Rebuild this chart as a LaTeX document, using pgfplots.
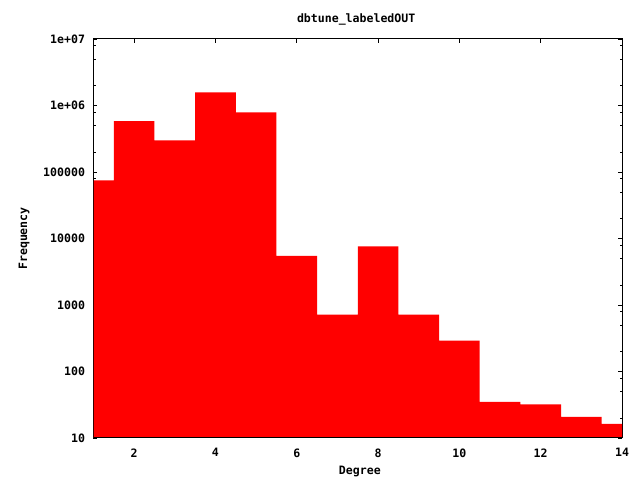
\documentclass[border=0pt]{standalone}
\usepackage{fontspec}
\setmonofont{DejaVu Sans Mono}
\usepackage{pgfplots}
\pgfplotsset{compat=1.18}
\definecolor{gpred}{RGB}{255,0,0}

\begin{document}
\begin{tikzpicture}[font=\ttfamily\bfseries\fontsize{11.6}{13}\selectfont]
\path[use as bounding box] (-93.5bp,-42bp) rectangle (546.5bp,438bp);
\begin{axis}[
    scale only axis,
    width=528.5bp, height=399bp,
    ymode=log,
    xmin=1, xmax=14,
    ymin=10, ymax=1e7,
    xtick={2,4,6,8,10,12,14},
    ytick={10,100,1000,10000,100000,1000000,10000000},
    yticklabels={10,100,1000,10000,100000,1e+06,1e+07},
    minor ytick={20,50,80,200,500,800,2000,5000,8000,20000,50000,80000,
                 200000,500000,800000,2000000,5000000,8000000},
    minor xtick={},
    tick align=inside,
    major tick length=4bp,
    minor tick length=2.5bp,
    tick style={black, line width=0.8bp},
    axis line style={line width=1bp},
    /pgf/number format/assume math mode=true,
    xticklabel style={yshift=-7bp},
    yticklabel style={xshift=-5bp},
    every axis title shift=0pt,
    title={dbtune\_labeledOUT},
    title style={at={(axis description cs:0.497,1.05)}, anchor=center, yshift=0pt},
    xlabel={Degree},
    xlabel style={at={(axis description cs:0.504,-0.0827)}, anchor=center},
    ylabel={Frequency},
    ylabel style={at={(axis description cs:-0.1315,0.5)}, anchor=center},
]
\addplot[ybar interval, fill=gpred, draw=none] coordinates {
    (0.5,75000) (1.5,580000) (2.5,300000) (3.5,1580000) (4.5,790000)
    (5.5,5500) (6.5,714) (7.5,7580) (8.5,714) (9.5,290)
    (10.5,35) (11.5,32) (12.5,20.7) (13.5,16.3) (14.5,16.3)
};
\draw[line width=1bp] (rel axis cs:0,0) rectangle (rel axis cs:1,1);
\end{axis}
\end{tikzpicture}
\end{document}
